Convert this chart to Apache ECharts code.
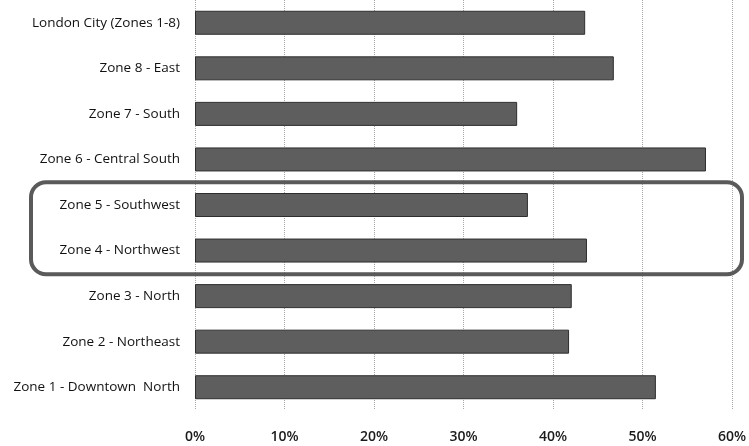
<!DOCTYPE html>
<html>
<head>
<meta charset="utf-8">
<script src="https://cdn.jsdelivr.net/npm/echarts@6/dist/echarts.min.js"></script>
<style>
html,body{margin:0;padding:0;background:#fff;}
#chart{width:749px;height:446px;}
</style>
</head>
<body>
<div id="chart"></div>
<script>
const categories = [
  'London City (Zones 1-8)',
  'Zone 8 - East',
  'Zone 7 - South',
  'Zone 6 - Central South',
  'Zone 5 - Southwest',
  'Zone 4 - Northwest',
  'Zone 3 - North',
  'Zone 2 - Northeast',
  'Zone 1 - Downtown  North'
];
const values = [43.6, 46.8, 36.0, 57.1, 37.2, 43.8, 42.1, 41.8, 51.5];
const highlighted = ['Zone 5 - Southwest', 'Zone 4 - Northwest'];
const xTicks = [0, 10, 20, 30, 40, 50, 60];

const chart = echarts.init(document.getElementById('chart'), null, {renderer: 'canvas'});
const font = '"Open Sans", "Noto Sans", sans-serif';
chart.setOption({
  animation: false,
  backgroundColor: '#fff',
  grid: {left: 195, right: 17, top: 0, bottom: 36, containLabel: false},
  xAxis: {
    type: 'value',
    min: xTicks[0],
    max: xTicks[xTicks.length - 1],
    interval: 10,
    axisLine: {show: false},
    axisTick: {show: false},
    splitLine: {show: true, lineStyle: {type: 'dotted', color: '#a8a8a8', width: 1}},
    axisLabel: {
      formatter: v => v + '%',
      margin: 20,
      fontFamily: font,
      fontSize: 14,
      fontWeight: 600,
      color: '#1a1a1a'
    }
  },
  yAxis: {
    type: 'category',
    data: categories,
    inverse: true,
    axisLine: {show: false},
    axisTick: {show: false},
    axisLabel: {margin: 15, fontFamily: font, fontSize: 13.5, color: '#111'}
  },
  series: [{
    type: 'bar',
    data: values,
    barWidth: 24,
    itemStyle: {color: '#5e5e5e', borderColor: '#2e2e2e', borderWidth: 1}
  }]
});

const yA = chart.convertToPixel({yAxisIndex: 0}, highlighted[0]);
const yB = chart.convertToPixel({yAxisIndex: 0}, highlighted[1]);
const half = (yB - yA) / 2;
chart.setOption({
  graphic: [{
    type: 'rect',
    shape: {x: 31, y: yA - half, width: 711, height: (yB - yA) + 2 * half + 1, r: 15},
    style: {fill: 'none', stroke: '#5a5a5a', lineWidth: 4},
    z: 100
  }]
});
</script>
</body>
</html>
